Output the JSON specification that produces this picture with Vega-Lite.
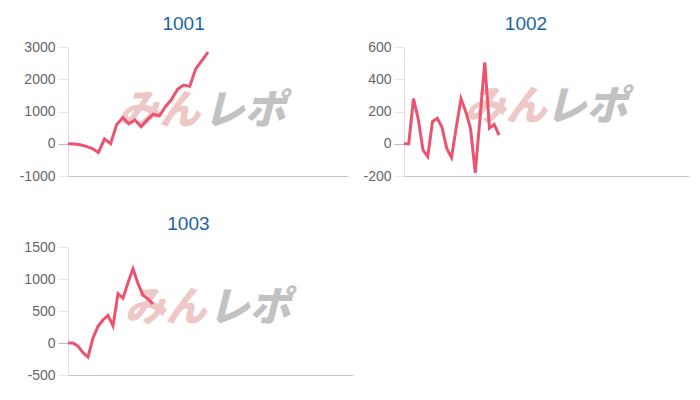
{
  "$schema": "https://vega.github.io/schema/vega-lite/v6.json",
  "background": "white",
  "padding": {"left": 19, "top": 15, "right": 12, "bottom": 18},
  "datasets": {
    "series": [
      {"id": "1001", "k": 0, "v": 0}, {"id": "1001", "k": 1, "v": -10}, {"id": "1001", "k": 2, "v": -30}, {"id": "1001", "k": 3, "v": -80},
      {"id": "1001", "k": 4, "v": -150}, {"id": "1001", "k": 5, "v": -270}, {"id": "1001", "k": 6, "v": 150}, {"id": "1001", "k": 7, "v": 0},
      {"id": "1001", "k": 8, "v": 600}, {"id": "1001", "k": 9, "v": 810}, {"id": "1001", "k": 10, "v": 620}, {"id": "1001", "k": 11, "v": 740},
      {"id": "1001", "k": 12, "v": 530}, {"id": "1001", "k": 13, "v": 740}, {"id": "1001", "k": 14, "v": 920}, {"id": "1001", "k": 15, "v": 860},
      {"id": "1001", "k": 16, "v": 1150}, {"id": "1001", "k": 17, "v": 1370}, {"id": "1001", "k": 18, "v": 1690}, {"id": "1001", "k": 19, "v": 1820},
      {"id": "1001", "k": 20, "v": 1780}, {"id": "1001", "k": 21, "v": 2330}, {"id": "1001", "k": 22, "v": 2580}, {"id": "1001", "k": 23, "v": 2840},
      {"id": "1002", "k": 0, "v": 0}, {"id": "1002", "k": 1, "v": 0}, {"id": "1002", "k": 2, "v": 280}, {"id": "1002", "k": 3, "v": 152},
      {"id": "1002", "k": 4, "v": -39}, {"id": "1002", "k": 5, "v": -80}, {"id": "1002", "k": 6, "v": 137}, {"id": "1002", "k": 7, "v": 158},
      {"id": "1002", "k": 8, "v": 102}, {"id": "1002", "k": 9, "v": -29}, {"id": "1002", "k": 10, "v": -85}, {"id": "1002", "k": 11, "v": 100},
      {"id": "1002", "k": 12, "v": 280}, {"id": "1002", "k": 13, "v": 199}, {"id": "1002", "k": 14, "v": 96}, {"id": "1002", "k": 15, "v": -180},
      {"id": "1002", "k": 16, "v": 160}, {"id": "1002", "k": 17, "v": 505}, {"id": "1002", "k": 18, "v": 97}, {"id": "1002", "k": 19, "v": 120},
      {"id": "1002", "k": 20, "v": 54},
      {"id": "1003", "k": 0, "v": 0}, {"id": "1003", "k": 1, "v": 0}, {"id": "1003", "k": 2, "v": -50}, {"id": "1003", "k": 3, "v": -150},
      {"id": "1003", "k": 4, "v": -220}, {"id": "1003", "k": 5, "v": 80}, {"id": "1003", "k": 6, "v": 260}, {"id": "1003", "k": 7, "v": 360},
      {"id": "1003", "k": 8, "v": 430}, {"id": "1003", "k": 9, "v": 270}, {"id": "1003", "k": 10, "v": 770}, {"id": "1003", "k": 11, "v": 700},
      {"id": "1003", "k": 12, "v": 940}, {"id": "1003", "k": 13, "v": 1160}, {"id": "1003", "k": 14, "v": 930}, {"id": "1003", "k": 15, "v": 745},
      {"id": "1003", "k": 16, "v": 690}, {"id": "1003", "k": 17, "v": 610}
    ],
    "wm1": [{"t": "みん"}],
    "wm2": [{"t": "レポ"}]
  },
  "config": {
    "view": {"stroke": null},
    "axisY": {"labelFont": "Liberation Sans", "labelFontSize": 14, "labelColor": "#666666", "tickSize": 10, "labelPadding": 3, "domainColor": "#e0e0e0", "title": null, "labelOverlap": false, "labelExpr": "'' + datum.value", "tickCount": 10},
    "axisX": {"labels": false, "ticks": false, "grid": false, "domain": true, "domainColor": "#c8c8c8", "title": null},
    "title": {"font": "Liberation Sans", "fontSize": 19, "fontWeight": "normal", "color": "#1d63a3", "frame": "bounds", "anchor": "middle", "offset": 6}
  },
  "vconcat": [
    {
      "hconcat": [
        {
          "title": "1001",
          "width": 280, "height": 129,
          "layer": [
            {"data": {"name": "wm1"}, "mark": {"type": "text", "font": "Noto Sans CJK JP", "fontSize": 41, "fontWeight": 900, "fontStyle": "italic", "color": "#e8b0b0", "opacity": 0.7},
             "encoding": {"x": {"datum": 15, "type": "quantitative"}, "y": {"datum": 990, "type": "quantitative"}, "text": {"field": "t"}}},
            {"data": {"name": "wm2"}, "mark": {"type": "text", "font": "Noto Sans CJK JP", "fontSize": 41, "fontWeight": 900, "fontStyle": "italic", "color": "#b4b4b4", "opacity": 0.8},
             "encoding": {"x": {"datum": 29, "type": "quantitative"}, "y": {"datum": 990, "type": "quantitative"}, "text": {"field": "t"}}},
            {"data": {"name": "series"}, "transform": [{"filter": "datum.id === '1001'"}],
             "mark": {"type": "line", "color": "#eb5470", "strokeWidth": 3, "strokeJoin": "miter"},
             "encoding": {
               "x": {"field": "k", "type": "quantitative", "scale": {"domain": [0, 46], "nice": false, "zero": false}},
               "y": {"field": "v", "type": "quantitative", "scale": {"domain": [-1000, 3000], "nice": false}, "axis": {"values": [-1000, 0, 1000, 2000, 3000], "tickCount": 10, "gridColor": {"condition": {"test": "datum.value === 0", "value": "#bdbdbd"}, "value": "#e6e6e6"}, "tickColor": {"condition": {"test": "datum.value === 0", "value": "#bdbdbd"}, "value": "#e6e6e6"}}}
             }}
          ]
        },
        {
          "title": "1002",
          "width": 285, "height": 129,
          "layer": [
            {"data": {"name": "wm1"}, "mark": {"type": "text", "font": "Noto Sans CJK JP", "fontSize": 41, "fontWeight": 900, "fontStyle": "italic", "color": "#e8b0b0", "opacity": 0.7},
             "encoding": {"x": {"datum": 21.4, "type": "quantitative"}, "y": {"datum": 219, "type": "quantitative"}, "text": {"field": "t"}}},
            {"data": {"name": "wm2"}, "mark": {"type": "text", "font": "Noto Sans CJK JP", "fontSize": 41, "fontWeight": 900, "fontStyle": "italic", "color": "#b4b4b4", "opacity": 0.8},
             "encoding": {"x": {"datum": 38.4, "type": "quantitative"}, "y": {"datum": 219, "type": "quantitative"}, "text": {"field": "t"}}},
            {"data": {"name": "series"}, "transform": [{"filter": "datum.id === '1002'"}],
             "mark": {"type": "line", "color": "#eb5470", "strokeWidth": 3, "strokeJoin": "miter"},
             "encoding": {
               "x": {"field": "k", "type": "quantitative", "scale": {"domain": [0, 60], "nice": false, "zero": false}},
               "y": {"field": "v", "type": "quantitative", "scale": {"domain": [-200, 600], "nice": false}, "axis": {"values": [-200, 0, 200, 400, 600], "tickCount": 10, "gridColor": {"condition": {"test": "datum.value === 0", "value": "#bdbdbd"}, "value": "#e6e6e6"}, "tickColor": {"condition": {"test": "datum.value === 0", "value": "#bdbdbd"}, "value": "#e6e6e6"}}}
             }}
          ]
        }
      ],
      "spacing": 14
    },
    {
      "title": "1003",
      "width": 285, "height": 128,
      "layer": [
        {"data": {"name": "wm1"}, "mark": {"type": "text", "font": "Noto Sans CJK JP", "fontSize": 41, "fontWeight": 900, "fontStyle": "italic", "color": "#e8b0b0", "opacity": 0.7},
         "encoding": {"x": {"datum": 19.5, "type": "quantitative"}, "y": {"datum": 532, "type": "quantitative"}, "text": {"field": "t"}}},
        {"data": {"name": "wm2"}, "mark": {"type": "text", "font": "Noto Sans CJK JP", "fontSize": 41, "fontWeight": 900, "fontStyle": "italic", "color": "#b4b4b4", "opacity": 0.8},
         "encoding": {"x": {"datum": 36.3, "type": "quantitative"}, "y": {"datum": 532, "type": "quantitative"}, "text": {"field": "t"}}},
        {"data": {"name": "series"}, "transform": [{"filter": "datum.id === '1003'"}],
         "mark": {"type": "line", "color": "#eb5470", "strokeWidth": 3, "strokeJoin": "miter"},
         "encoding": {
           "x": {"field": "k", "type": "quantitative", "scale": {"domain": [0, 57], "nice": false, "zero": false}},
           "y": {"field": "v", "type": "quantitative", "scale": {"domain": [-500, 1500], "nice": false}, "axis": {"values": [-500, 0, 500, 1000, 1500], "tickCount": 10, "gridColor": {"condition": {"test": "datum.value === 0", "value": "#bdbdbd"}, "value": "#e6e6e6"}, "tickColor": {"condition": {"test": "datum.value === 0", "value": "#bdbdbd"}, "value": "#e6e6e6"}}}
         }}
      ]
    }
  ],
  "spacing": 32
}
